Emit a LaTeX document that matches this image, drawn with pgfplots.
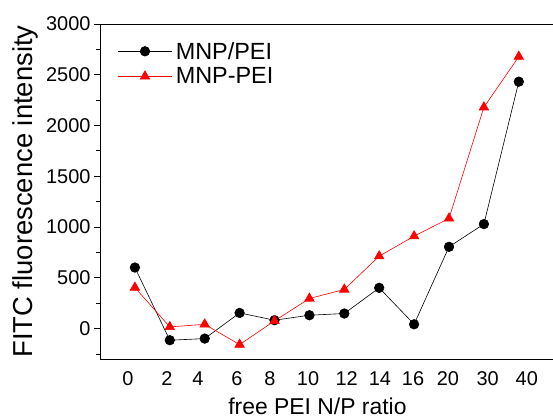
\documentclass[border=0pt]{standalone}
\usepackage{fontspec}
\setmainfont{Liberation Sans}
\usepackage{pgfplots}
\pgfplotsset{compat=1.18}
\begin{document}
\begin{tikzpicture}
\begin{axis}[
 scale only axis, width=453bp, height=335bp,
 at={(0,0)}, anchor=south west,
 xmin=-1, xmax=11.98, ymin=-300, ymax=3000,
 xtick={-0.2,0.917,1.805,2.92,3.87,4.96,6.07,7.02,7.97,8.97,10.11,11.23},
 xticklabels={0,2,4,6,8,10,12,14,16,20,30,40},
 xtick style={draw=none},
 xticklabel style={yshift=-3bp},
 ytick={0,500,...,3000},
 minor ytick={-250,250,750,1250,1750,2250,2750},
 tick align=outside, ytick pos=left,
 major tick length=6bp, minor tick length=4bp,
 every tick/.style={black, line width=0.8bp},
 axis line style={line width=0.9bp},
 tick label style={font=\fontsize{20}{24}\selectfont},
 /pgf/number format/assume math mode=true,
 /pgf/number format/1000 sep={},
 xlabel={free PEI N/P ratio},
 ylabel={FITC fluorescence intensity},
 every axis x label/.style={at={(axis description cs:0.48,0)}, anchor=base, yshift=-55bp, font=\fontsize{23}{27}\selectfont},
 every axis y label/.style={at={(axis description cs:-0.164,0.5)}, anchor=center, rotate=90, font=\fontsize{27.5}{32}\selectfont},
 legend style={draw=none, fill=none, at={(axis description cs:0.032,0.963)}, anchor=north west, font=\fontsize{23.5}{28}\selectfont, row sep=0bp, nodes={inner sep=3.5bp}},
 legend cell align=left,
 legend image code/.code={\draw[mark repeat=2,mark phase=2,#1] plot coordinates {(0bp,0bp) (27bp,0bp) (54bp,0bp)};},
]
\addplot[black, line width=0.6bp, mark=*, mark size=4.8bp, mark options={solid}] coordinates {
(0,601) (1,-115) (2,-99) (3,154) (4,82) (5,131) (6,148) (7,401) (8,42) (9,805) (10,1029) (11,2432)};
\addlegendentry{MNP/PEI}
\addplot[red, line width=0.6bp, mark=triangle*, mark size=5.5bp, mark options={solid}] coordinates {
(0,404) (1,16) (2,42) (3,-158) (4,75) (5,296) (6,385) (7,713) (8,910) (9,1085) (10,2180) (11,2679)};
\addlegendentry{MNP-PEI}
\end{axis}
\pgfresetboundingbox
\useasboundingbox (-100bp,-59bp) rectangle (453bp,359bp);
\end{tikzpicture}
\end{document}
